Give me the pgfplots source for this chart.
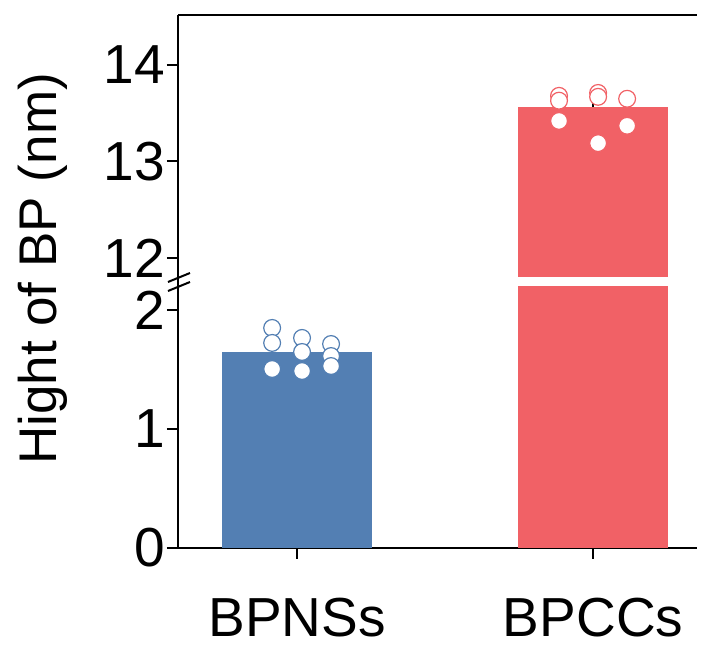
\documentclass[border=0pt]{standalone}
\usepackage{pgfplots}
\pgfplotsset{compat=1.18}
\usepackage{fontspec}
\setmainfont{Liberation Sans}
\definecolor{bpblue}{RGB}{83,127,179}
\definecolor{bpred}{RGB}{241,97,102}
\pgfplotsset{
  common/.style={
    scale only axis, width=259.5pt,
    xmin=-0.402, xmax=1.351,
    axis line style={-, line width=1pt},
    x axis line style={-}, y axis line style={-},
    tick style={line width=1pt, black},
    major tick length=5.5pt,
    tick align=outside,
    clip=true,
    /pgf/number format/assume math mode=true,
    tick label style={font=\fontsize{27.5}{27.5}\selectfont},
    yticklabel style={xshift=2.5pt},
    xticklabel style={yshift=-16pt},
  },
  barstyle/.style={ybar, bar width=0.507, bar shift=0pt, draw=none, fill=#1},
  ptstyle/.style={only marks, mark=*, mark size=4.2pt, mark options={fill=white, draw=#1, line width=0.6pt}},
  errstyle/.style={draw=none, mark=none, forget plot,
    error bars/.cd, y dir=plus, y explicit,
    error bar style={black, line width=1pt},
    error mark options={black, line width=1pt, mark size=1.5pt}},
}
\begin{document}
\begin{tikzpicture}
\useasboundingbox (-89pt,-50.5pt) rectangle (262.5pt,274pt);
% lower axis
\begin{axis}[common, at={(0,0)}, anchor=south west, height=130.5pt,
  ymin=0, ymax=2.193,
  axis x line*=bottom, axis y line*=left,
  xtick={0,1}, xticklabels={BPNSs,BPCCs},
  ytick={0,1,2}]
\addplot[barstyle=bpblue] coordinates {(0,1.65)};
\addplot[barstyle=bpred] coordinates {(1,13.565)};
\addplot[errstyle] coordinates {(0,1.65) +- (0,0.11)};
\addplot[ptstyle=bpblue] coordinates {
(-0.084,1.849) (-0.084,1.723) (-0.084,1.504)
(0.017,1.765) (0.017,1.647) (0.017,1.487)
(0.115,1.714) (0.115,1.613) (0.115,1.529)};
\end{axis}
% upper axis
\begin{axis}[common, at={(0,135.5pt)}, anchor=south west, height=131pt,
  ymin=11.803, ymax=14.518,
  axis x line*=top, axis y line*=left,
  xtick=\empty,
  ytick={12,13,14}]
\addplot[barstyle=bpblue] coordinates {(0,1.65)};
\addplot[barstyle=bpred] coordinates {(1,13.565)};
\addplot[errstyle] coordinates {(1,13.565) +- (0,0.19)};
\addplot[ptstyle=bpred] coordinates {
(0.885,13.68) (0.885,13.63) (0.885,13.42)
(1.017,13.71) (1.017,13.67) (1.017,13.19)
(1.115,13.65) (1.115,13.37)};
\end{axis}
% axis break
\draw[line width=1pt] (0,130.5pt) -- (0,135.5pt);
\draw[line width=1pt] (-5pt,133pt) -- (6pt,137.5pt);
\draw[line width=1pt] (-5pt,128.5pt) -- (6pt,133pt);
\node[rotate=90, anchor=base, font=\fontsize{26.5}{26.5}\selectfont] at (-60.5pt,139.5pt) {Hight of BP (nm)};
\end{tikzpicture}
\end{document}
